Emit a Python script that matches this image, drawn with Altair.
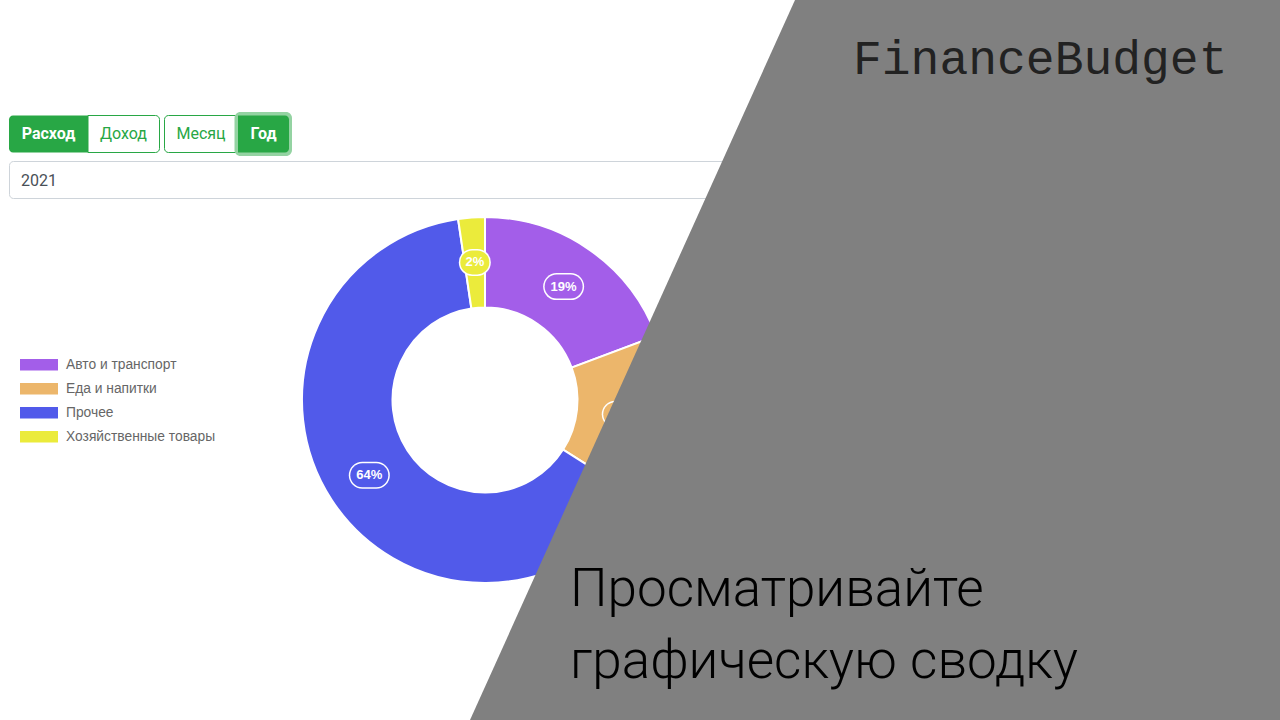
import altair as alt
import pandas as pd

# ---- data -------------------------------------------------------------
categories = ["Авто и транспорт", "Еда и напитки", "Прочее", "Хозяйственные товары"]
shares = [19.3, 14.7, 63.65, 2.35]
colors = ["#a35ee9", "#ecb66b", "#515aea", "#ebeb3b"]

year_text = "2021"
type_buttons = ["Расход", "Доход"]
period_buttons = ["Месяц", "Год"]
brand = "FinanceBudget"
slogan = ["Просматривайте", "графическую сводку"]

df = pd.DataFrame({"cat": categories, "value": shares, "idx": list(range(len(categories)))})

# ---- layout constants -------------------------------------------------
W, H = 1280, 720
CX, CY = 485, 400
R_IN, R_OUT, R_LAB = 92.5, 183, 138
GREEN = "#28a745"
UI_FONT = "Roboto"
CH_FONT = "Liberation Sans"

xs = alt.Scale(domain=[0, W], nice=False, zero=False)
ys = alt.Scale(domain=[0, H], nice=False, zero=False, reverse=True)
col = alt.Scale(domain=categories, range=colors)

base = alt.Chart(df)

# ---- donut ------------------------------------------------------------
donut = base.mark_arc(innerRadius=R_IN, outerRadius=R_OUT, stroke="white", strokeWidth=2).encode(
    theta=alt.Theta("value:Q", stack=True),
    color=alt.Color("cat:N", scale=col, legend=None),
    order=alt.Order("idx:Q"),
    x=alt.value(CX),
    y=alt.value(CY),
)

lab = (
    base.transform_joinaggregate(total="sum(value)")
    .transform_window(cum="sum(value)", sort=[alt.SortField("idx")], frame=[None, 0])
    .transform_calculate(ang="2*PI*(datum.cum - datum.value/2)/datum.total")
    .transform_calculate(px=f"{CX} + {R_LAB}*sin(datum.ang)")
    .transform_calculate(py=f"{CY} - {R_LAB}*cos(datum.ang)")
    .transform_calculate(label="format(datum.value/datum.total*100, '.0f') + '%'")
    .transform_calculate(hl="length(datum.label) > 2 ? 7 : 2.5")
    .transform_calculate(pxa="datum.px - datum.hl")
    .transform_calculate(pxb="datum.px + datum.hl")
)

pill_border = lab.mark_rule(strokeCap="round", strokeWidth=27, color="white").encode(
    x=alt.X("pxa:Q", scale=xs, axis=None),
    x2="pxb:Q",
    y=alt.Y("py:Q", scale=ys, axis=None),
)
pill_fill = lab.mark_rule(strokeCap="round", strokeWidth=24).encode(
    x=alt.X("pxa:Q", scale=xs, axis=None),
    x2="pxb:Q",
    y=alt.Y("py:Q", scale=ys, axis=None),
    color=alt.Color("cat:N", scale=col, legend=None),
)
pill_text = lab.mark_text(color="white", fontWeight="bold", fontSize=13, font=CH_FONT, baseline="middle").encode(
    x=alt.X("px:Q", scale=xs, axis=None),
    y=alt.Y("py:Q", scale=ys, axis=None),
    text="label:N",
)

# ---- legend -----------------------------------------------------------
leg = (
    base.transform_calculate(ly="359 + 24*datum.idx")
    .transform_calculate(ly2="datum.ly + 11.5")
    .transform_calculate(ty="datum.ly + 5.5")
)
leg_rect = leg.mark_rect().encode(
    x=alt.value(20), x2=alt.value(58),
    y=alt.Y("ly:Q", scale=ys, axis=None), y2="ly2:Q",
    color=alt.Color("cat:N", scale=col, legend=None),
)
leg_text = leg.mark_text(align="left", baseline="middle", fontSize=13.8, color="#666666", font=CH_FONT).encode(
    x=alt.value(66),
    y=alt.Y("ty:Q", scale=ys, axis=None),
    text="cat:N",
)

# ---- decorations ------------------------------------------------------
deco = alt.Chart(pd.DataFrame({"k": [0]}))


def rect(x1, x2, y1, y2, **kw):
    return deco.mark_rect(**kw).encode(x=alt.value(x1), x2=alt.value(x2), y=alt.value(y1), y2=alt.value(y2))


def txt(s, x, y, **kw):
    return deco.mark_text(text=s, baseline="alphabetic", **kw).encode(x=alt.value(x), y=alt.value(y))


BT, BB = 115.5, 152.5
ui = [
    # type group
    rect(9, 88, BT, BB, fill=GREEN, cornerRadiusTopLeft=4, cornerRadiusBottomLeft=4),
    rect(88, 159.5, BT, BB, fill="white", stroke=GREEN, strokeWidth=1,
         cornerRadiusTopRight=4, cornerRadiusBottomRight=4),
    txt(type_buttons[0], 48.5, 139, font=UI_FONT, fontSize=16, fontWeight="bold", color="white", align="center"),
    txt(type_buttons[1], 123.5, 139, font=UI_FONT, fontSize=16, color=GREEN, align="center"),
    # period group
    rect(164.5, 238, BT, BB, fill="white", stroke=GREEN, strokeWidth=1,
         cornerRadiusTopLeft=4, cornerRadiusBottomLeft=4),
    rect(234.5, 292, 112, 156, fill="#94d3a2", cornerRadius=6),
    rect(238, 289, BT, BB, fill=GREEN, cornerRadiusTopRight=4, cornerRadiusBottomRight=4),
    txt(period_buttons[0], 201, 139, font=UI_FONT, fontSize=16, color=GREEN, align="center"),
    txt(period_buttons[1], 263.5, 139, font=UI_FONT, fontSize=16, fontWeight="bold", color="white", align="center"),
    # year input
    rect(9.5, 1270, 161.5, 198.5, fill="white", stroke="#ced4da", strokeWidth=1, cornerRadius=4),
    txt(year_text, 21, 186, font=UI_FONT, fontSize=16, color="#495057", align="left"),
]

# ---- grey overlay -----------------------------------------------------
ov = pd.DataFrame({"oy": [0, H], "ox": [795, 470]})
overlay = alt.Chart(ov).mark_area(orient="horizontal", color="#808080").encode(
    y=alt.Y("oy:Q", scale=ys, axis=None),
    x=alt.X("ox:Q", scale=xs, axis=None, stack=None),
    x2=alt.value(W),
)

brand_text = txt(brand, 853, 74, font="Liberation Mono", fontSize=48,
                 color="#222222", align="left")
slogan1 = txt(slogan[0], 570, 606, font="Roboto", fontSize=53, fontWeight=300, color="black", align="left")
slogan2 = txt(slogan[1], 570, 678, font="Roboto", fontSize=53, fontWeight=300, color="black", align="left")

chart = alt.layer(
    donut, pill_border, pill_fill, pill_text, leg_rect, leg_text, *ui,
    overlay, brand_text, slogan1, slogan2,
).properties(
    width=W, height=H, padding=0, autosize="none", background="white"
).configure_view(stroke=None)

chart.save("out.html", embed_options={"renderer": "svg", "actions": False})
